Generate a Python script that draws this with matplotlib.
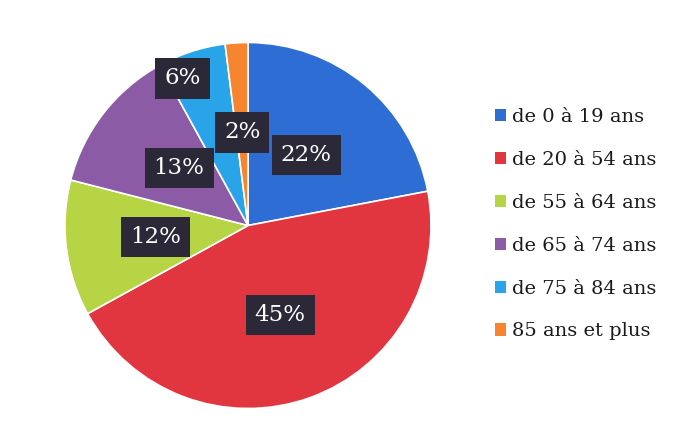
import matplotlib.pyplot as plt
import numpy as np

categories = ['de 0 à 19 ans', 'de 20 à 54 ans', 'de 55 à 64 ans',
              'de 65 à 74 ans', 'de 75 à 84 ans', '85 ans et plus']
shares = [22, 45, 12, 13, 6, 2]
labels = ['22%', '45%', '12%', '13%', '6%', '2%']

colors = ['#2E6DD4', '#E1363F', '#B6D443', '#8B5BA6', '#2AA4E8', '#F7852F']
# label placement: fraction of radius, extra angle (deg)
label_r = [0.50, 0.52, 0.51, 0.49, 0.88, 0.51]
label_da = [0, 0, 0, -2, 6, 0]

W, H = 675, 429
fig = plt.figure(figsize=(W / 100, H / 100), dpi=100)
cx, cy, R = 248, 225.5, 183
ax = fig.add_axes([(cx - R) / W, (H - cy - R) / H, 2 * R / W, 2 * R / H])

wedges, _ = ax.pie(shares, colors=colors, startangle=90, counterclock=False,
                   radius=1, wedgeprops=dict(edgecolor='white', linewidth=1.2))
ax.set_xlim(-1, 1)
ax.set_ylim(-1, 1)
ax.set_aspect('equal')
ax.axis('off')

for w, lab, r, da in zip(wedges, labels, label_r, label_da):
    a = np.deg2rad((w.theta1 + w.theta2) / 2 + da)
    ax.text(r * np.cos(a), r * np.sin(a), lab, ha='center', va='center',
            color='white', fontsize=16.5, family='DejaVu Serif',
            bbox=dict(boxstyle='square,pad=0.4', facecolor='#2B2938',
                      edgecolor='none'))

leg = fig.legend(wedges, categories, loc='upper left',
                 bbox_to_anchor=(477 / W, 1 - 90.5 / H), frameon=False,
                 handlelength=0.6, handleheight=0.6, handletextpad=0.3,
                 labelspacing=1.28, labelcolor='#1a1a1a',
                 prop=dict(family='DejaVu Serif', size=14))
for h in leg.legend_handles:
    h.set_edgecolor('none')

fig.savefig('out.png', dpi=100, facecolor='white')
